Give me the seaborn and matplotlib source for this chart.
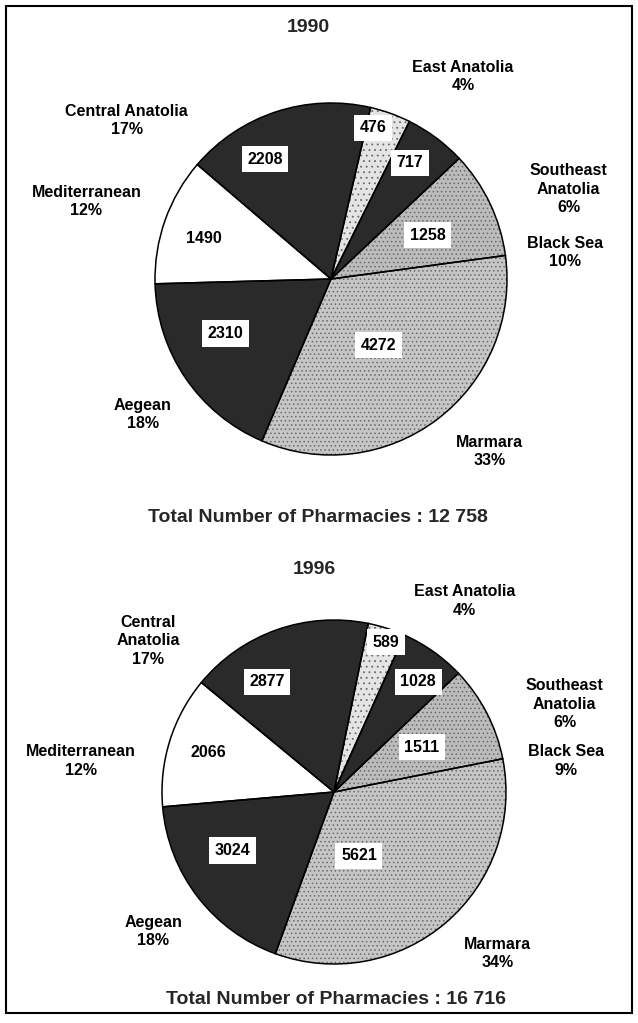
import numpy as np
import seaborn as sns
import matplotlib.pyplot as plt
from matplotlib.patches import Rectangle

sns.set_theme(style="white")
plt.rcParams["font.family"] = ["Liberation Sans", "DejaVu Sans"]
plt.rcParams["hatch.linewidth"] = 0.6

# Data
regions = ["East Anatolia", "Southeast Anatolia", "Black Sea", "Marmara",
           "Aegean", "Mediterranean", "Central Anatolia"]
values_1990 = [476, 717, 1258, 4272, 2310, 1490, 2208]
values_1996 = [589, 1028, 1511, 5621, 3024, 2066, 2877]
pct_1990 = [4, 6, 10, 33, 18, 12, 17]
pct_1996 = [4, 6, 9, 34, 18, 12, 17]
total_1990 = "12 758"
total_1996 = "16 716"

# label text per region (line breaks differ between the two charts)
names_1990 = ["East Anatolia", "Southeast\nAnatolia", "Black Sea", "Marmara",
              "Aegean", "Mediterranean", "Central Anatolia"]
names_1996 = ["East Anatolia", "Southeast\nAnatolia", "Black Sea", "Marmara",
              "Aegean", "Mediterranean", "Central\nAnatolia"]

colors = ["#e4e4e4", "#2a2a2a", "#bcbcbc", "#c6c6c6",
          "#2a2a2a", "#ffffff", "#2a2a2a"]
# speckled scan texture on the grey slices
hatches = ["...", "", "....", "....", "", "", ""]

# text placement, in pie units (radius = 1)
value_pos_1990 = [(0.24, 0.86), (0.45, 0.66), (0.55, 0.25), (0.27, -0.375),
                  (-0.60, -0.31), (-0.72, 0.23), (-0.375, 0.68)]
label_pos_1990 = [(0.75, 1.15), (1.35, 0.51), (1.33, 0.15), (0.90, -0.98),
                  (-1.07, -0.77), (-1.39, 0.44), (-1.16, 0.90)]
value_pos_1996 = [(0.30, 0.87), (0.49, 0.64), (0.51, 0.26), (0.145, -0.37),
                  (-0.59, -0.34), (-0.73, 0.23), (-0.39, 0.64)]
label_pos_1996 = [(0.76, 1.11), (1.34, 0.51), (1.35, 0.18), (0.95, -0.94),
                  (-1.05, -0.81), (-1.47, 0.18), (-1.08, 0.88)]

W, H = 638, 1023
fig = plt.figure(figsize=(W / 100, H / 100), dpi=100)
fig.patch.set_facecolor("white")


def draw_pie(cx, cy, r, values, pcts, names, vpos, lpos, start):
    ax = fig.add_axes([(cx - r) / W, 1 - (cy + r) / H, 2 * r / W, 2 * r / H])
    ax.pie(values, colors=colors, startangle=start, counterclock=False,
           radius=1, wedgeprops=dict(linewidth=0))
    # texture layer, then the outlines on top
    ax.pie(values, startangle=start, counterclock=False, radius=1,
           hatch=hatches,
           wedgeprops=dict(fill=False, edgecolor="#6a6a6a", linewidth=0))
    ax.pie(values, startangle=start, counterclock=False, radius=1,
           wedgeprops=dict(fill=False, edgecolor="black", linewidth=1.1))
    ax.set_xlim(-1, 1)
    ax.set_ylim(-1, 1)
    ax.axis("off")
    for v, (x, y) in zip(values, vpos):
        ax.text(x, y, str(v), ha="center", va="center", fontsize=11.5,
                fontweight="bold", color="black",
                bbox=dict(boxstyle="square,pad=0.35", fc="white", ec="none"))
    for n, p, (x, y) in zip(names, pcts, lpos):
        ax.text(x, y, f"{n}\n{p}%", ha="center", va="center", fontsize=11.5,
                fontweight="bold", color="black", linespacing=1.3,
                clip_on=False)
    return ax


draw_pie(331, 279, 176, values_1990, pct_1990, names_1990,
         value_pos_1990, label_pos_1990, 77)
draw_pie(334, 792, 172, values_1996, pct_1996, names_1996,
         value_pos_1996, label_pos_1996, 78.5)

fig.text(308 / W, 1 - 27 / H, "1990", ha="center", va="center",
         fontsize=14, fontweight="bold")
fig.text(318 / W, 1 - 517 / H, f"Total Number of Pharmacies : {total_1990}",
         ha="center", va="center", fontsize=14, fontweight="bold")
fig.text(314 / W, 1 - 570 / H, "1996", ha="center", va="center",
         fontsize=14, fontweight="bold")
fig.text(336 / W, 1 - 1000 / H, f"Total Number of Pharmacies : {total_1996}",
         ha="center", va="center", fontsize=14, fontweight="bold")

# frame around the whole page
fig.patches.append(Rectangle((6 / W, 1 - 1013 / H), 626 / W, 1007 / H,
                             transform=fig.transFigure, fill=False,
                             edgecolor="black", linewidth=1.5))

fig.savefig("out.png", dpi=100)
